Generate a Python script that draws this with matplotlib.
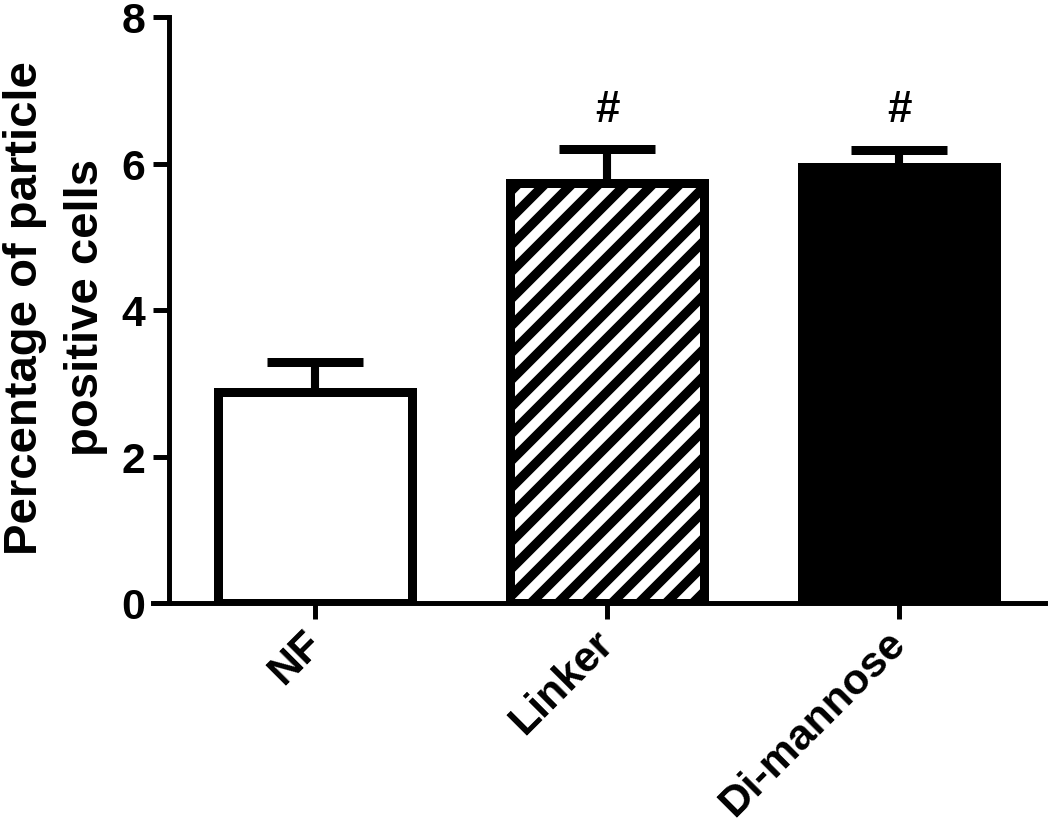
import matplotlib
matplotlib.use("Agg")
import matplotlib.pyplot as plt
import numpy as np

categories = ["NF", "Linker", "Di-mannose"]
means = [2.88, 5.74, 5.95]
sem_upper = [0.42, 0.46, 0.24]
fills = ["white", "white", "black"]
hatches = [None, "//", None]
annotations = ["", "#", "#"]

DPI = 162
plt.rcParams["font.family"] = ["Liberation Sans", "DejaVu Sans"]
plt.rcParams["font.weight"] = "bold"
plt.rcParams["hatch.linewidth"] = 4.2
plt.rcParams["hatch.color"] = "black"

fig = plt.figure(figsize=(1050.4 / DPI, 831.4 / DPI), dpi=DPI)
ax = fig.add_axes([153 / 1050, (831 - 603.5) / 831, (1045 - 153) / 1050, (603.5 - 17.5) / 831])

x = np.arange(len(categories))
bar_w = 0.665
for xi, m, fc, h in zip(x, means, fills, hatches):
    ax.bar(xi, m, width=bar_w, color=fc, edgecolor="black", linewidth=4.0,
           hatch=h, zorder=3)

ax.errorbar(x, means, yerr=[np.zeros(len(x)), sem_upper], fmt="none",
            ecolor="black", elinewidth=3.6, capsize=21.5, capthick=4.0, zorder=2)

for xi, m, e, a in zip(x, means, sem_upper, annotations):
    if a:
        ax.text(xi, 6.45, a, ha="center", va="bottom", fontsize=19.5,
                fontweight="bold")

ax.set_xlim(-0.555, 2.5)
ax.set_ylim(0, 8)
ax.set_yticks([0, 2, 4, 6, 8])
ax.set_xticks(x)
ax.set_xticklabels(categories, rotation=45, ha="right", va="center",
                   rotation_mode="anchor", fontsize=19, fontweight="bold")
ax.tick_params(axis="y", labelsize=19, width=2.2, length=7, pad=3.5)
ax.tick_params(axis="x", width=2.2, length=7, pad=8)
for lab in ax.get_yticklabels():
    lab.set_fontweight("bold")

ax.spines["top"].set_visible(False)
ax.spines["right"].set_visible(False)
ax.spines["left"].set_position(("data", -0.5))
ax.spines["left"].set_linewidth(2.2)
ax.spines["bottom"].set_linewidth(2.2)
ax.spines["left"].set_bounds(0, 8)

ax.set_ylabel("Percentage of particle\npositive cells", fontsize=21,
              fontweight="bold", linespacing=1.5)
ax.yaxis.set_label_coords(-0.05, 0.505)

fig.savefig("out.png", dpi=DPI)
